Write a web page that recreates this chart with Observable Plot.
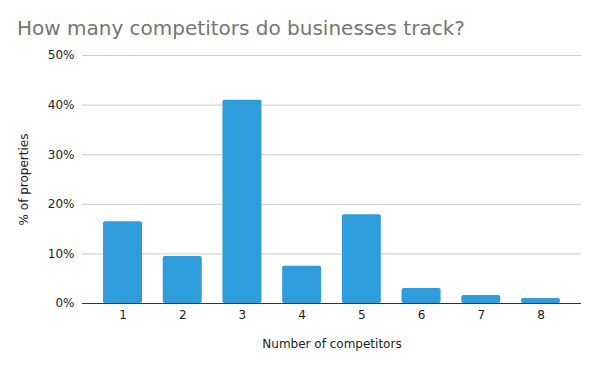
<!DOCTYPE html>
<html>
<head>
<meta charset="utf-8">
<script src="https://cdn.jsdelivr.net/npm/d3@7"></script>
<script src="https://cdn.jsdelivr.net/npm/@observablehq/plot@0.6"></script>
<style>
  html, body { margin: 0; padding: 0; background: #fff; }
  #wrap { width: 596px; height: 367px; position: relative; font-family: "DejaVu Sans", Verdana, sans-serif; }
  #title { height: 45px; position: relative; }
  #title span { position: absolute; left: 17px; top: 18px; font-size: 20px; line-height: 20px; color: #757575; white-space: nowrap; }
  svg { display: block; }
</style>
</head>
<body>
<div id="wrap">
  <div id="title"><span>How many competitors do businesses track?</span></div>
  <div id="chart"></div>
</div>
<script>
const competitors = ["1", "2", "3", "4", "5", "6", "7", "8"];
const shares = [16.5, 9.5, 41.0, 7.5, 17.9, 3.0, 1.6, 1.0];
const yTicks = [0, 10, 20, 30, 40, 50];

const data = competitors.map((c, i) => ({competitors: c, share: shares[i]}));

const chart = Plot.plot({
  width: 596,
  height: 322,
  marginTop: 10,
  marginBottom: 64,
  marginLeft: 82,
  marginRight: 15,
  style: {fontFamily: "DejaVu Sans, Verdana, sans-serif", fontSize: "12px", color: "#222", background: "#fff"},
  x: {domain: competitors, paddingInner: 0.347, paddingOuter: 0.352, round: false, label: null},
  y: {domain: [0, 50], label: null},
  marks: [
    Plot.gridY(yTicks, {stroke: "#cccccc", strokeOpacity: 1, strokeWidth: 1}),
    Plot.axisY(yTicks, {tickSize: 0, tickPadding: 8, tickFormat: d => d + "%", fontSize: 12, fill: "#222",
      label: "% of properties", labelAnchor: "center", labelOffset: 63, labelArrow: "none"}),
    Plot.axisX({tickSize: 0, tickPadding: 7, fontSize: 12, fill: "#222",
      label: "Number of competitors", labelAnchor: "center", labelOffset: 44, labelArrow: "none"}),
    Plot.barY(data, {x: "competitors", y: "share", fill: "#2f9ddb", rx: 2}),
    Plot.ruleY([0], {stroke: "#333", strokeWidth: 1.2})
  ]
});
document.getElementById("chart").appendChild(chart);
// enlarge the rotated y-axis label slightly to match reference
</script>
</body>
</html>
